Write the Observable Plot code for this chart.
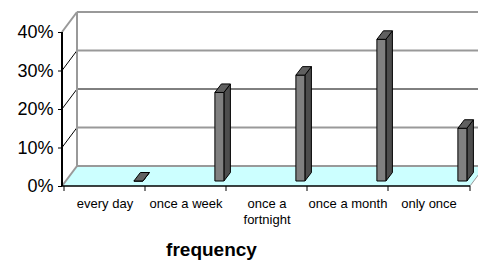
<!DOCTYPE html>
<html>
<head>
<meta charset="utf-8">
<script src="https://cdn.jsdelivr.net/npm/d3@7"></script>
<script src="https://cdn.jsdelivr.net/npm/@observablehq/plot@0.6"></script>
<style>
  html, body { margin: 0; padding: 0; background: #fff; overflow: hidden; }
</style>
</head>
<body>
<div id="chart"></div>
<script>
const categories = ["every day", "once a week", "once a fortnight", "once a month", "only once"];
const shares = [0, 0.23, 0.275, 0.368, 0.137];
const yTicks = [0, 0.1, 0.2, 0.3, 0.4];
const xLabel = "frequency";

const data = categories.map((c, i) => ({category: c, share: shares[i]}));

const WALL = "#999999";
const DEPTH = [15, -20];      // wall depth in px
const BAR_SHIFT = [3.75, -5]; // bar position in depth
const BAR_DEPTH = [6.5, -8.5];

function scene(index, scales) {
  const {x, y} = scales;
  const [xa, xb] = x.range();
  const bw = x.bandwidth();
  const y0 = y(0), yTop = y(0.4);
  const [dx, dy] = DEPTH;
  const g = d3.create("svg:g");
  const poly = (pts) => "M" + pts.map(p => p.join(",")).join("L") + "Z";
  const line = (a, b, stroke, w) => g.append("line")
    .attr("x1", a[0]).attr("y1", a[1]).attr("x2", b[0]).attr("y2", b[1])
    .attr("stroke", stroke).attr("stroke-width", w);

  // back wall
  g.append("path").attr("d", poly([[xa+dx, yTop+dy], [xb+dx, yTop+dy], [xb+dx, y0+dy], [xa+dx, y0+dy]])).attr("fill", "#fff");
  // floor
  g.append("path").attr("d", poly([[xa, y0], [xb, y0], [xb+dx, y0+dy], [xa+dx, y0+dy]])).attr("fill", "#ccffff");
  // back gridlines
  yTicks.forEach(t => {
    const black = Math.abs(t - 0.2) < 1e-9;
    line([xa+dx, y(t)+dy], [xb+dx, y(t)+dy], black ? "#000" : WALL, black ? 1 : 2);
  });
  // left wall gridlines
  yTicks.forEach(t => {
    const edge = t === 0 || t === 0.4;
    line([xa, y(t)], [xa+dx, y(t)+dy], edge ? WALL : "#000", edge ? 2 : 1);
  });
  // left wall back edge
  line([xa+dx, yTop+dy], [xa+dx, y0+dy], WALL, 2);
  // floor right edge
  line([xb, y0], [xb+dx, y0+dy], WALL, 1);

  // bars
  data.forEach(d => {
    const left = x(d.category) + bw - 14.85 + BAR_SHIFT[0];
    const right = left + 9;
    const base = y0 + BAR_SHIFT[1];
    const top = y(d.share) + BAR_SHIFT[1];
    const [bx, by] = BAR_DEPTH;
    g.append("path").attr("d", poly([[right, base], [right, top], [right+bx, top+by], [right+bx, base+by]]))
      .attr("fill", "#4d4d4d").attr("stroke", "#000").attr("stroke-width", 1).attr("stroke-linejoin", "round");
    g.append("path").attr("d", poly([[left, base], [right, base], [right, top], [left, top]]))
      .attr("fill", "#808080").attr("stroke", "#000").attr("stroke-width", 1).attr("stroke-linejoin", "round");
    g.append("path").attr("d", poly([[left, top], [right, top], [right+bx, top+by], [left+bx, top+by]]))
      .attr("fill", "#606060").attr("stroke", "#000").attr("stroke-width", 1).attr("stroke-linejoin", "round");
  });

  // axes lines
  line([xa, yTop], [xa, y0], "#000", 2);
  line([xa - 1, y0], [xb, y0], "#000", 1.5);
  // category boundary ticks
  categories.forEach((c) => line([x(c), y0], [x(c), y0 + 5], "#000", 1));
  line([xb, y0], [xb, y0 + 5], "#000", 1);
  return g.node();
}

const chart = Plot.plot({
  width: 478,
  height: 264,
  marginLeft: 62,
  marginRight: 8,
  marginTop: 32,
  marginBottom: 78,
  style: {fontFamily: "'Liberation Sans', Arial, sans-serif", background: "#fff", color: "#000"},
  x: {type: "band", domain: categories, padding: 0},
  y: {domain: [0, 0.4]},
  marks: [
    scene,
    Plot.axisY(yTicks, {
      tickSize: 4, tickPadding: 5, fontSize: 18, stroke: "#000", strokeWidth: 1,
      tickFormat: d => Math.round(d * 100) + "%", fill: "#000"
    }),
    Plot.axisX({
      tickSize: 0, tickPadding: 9, fontSize: 13, fill: "#000", lineHeight: 1.3,
      tickFormat: d => d === "once a fortnight" ? "once a\nfortnight" : d, label: null
    }),
    Plot.text([xLabel], {
      frameAnchor: "bottom", dx: -55, dy: 63, text: d => d,
      fontSize: 19, fontWeight: "bold", fill: "#000", lineAnchor: "middle"
    })
  ]
});
document.getElementById("chart").appendChild(chart);
</script>
</body>
</html>
